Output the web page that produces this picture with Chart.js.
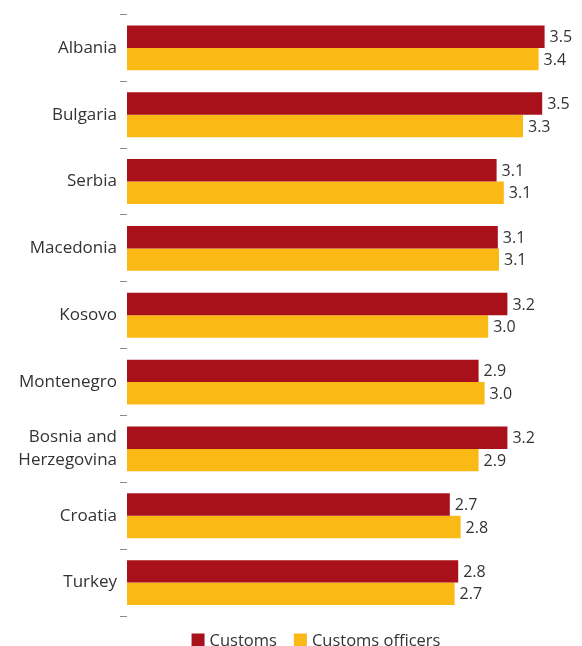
<!DOCTYPE html>
<html>
<head>
<meta charset="utf-8">
<script src="https://cdn.jsdelivr.net/npm/chart.js@4"></script>
<style>
  html, body { margin: 0; padding: 0; background: #fff; }
  #wrap { width: 582px; height: 646px; position: relative; }
</style>
</head>
<body>
<div id="wrap"><canvas id="chart"></canvas></div>
<script>
const countries = ['Albania', 'Bulgaria', 'Serbia', 'Macedonia', 'Kosovo', 'Montenegro',
    ['Bosnia and', 'Herzegovina'], 'Croatia', 'Turkey'];
const customs = [3.48, 3.46, 3.08, 3.09, 3.17, 2.93, 3.17, 2.69, 2.76];
const customsOfficers = [3.43, 3.30, 3.14, 3.10, 3.01, 2.98, 2.93, 2.78, 2.73];
const seriesNames = ['Customs', 'Customs officers'];
const seriesColors = ['#a8101a', '#fbb916'];

const FONT = '"Open Sans", sans-serif';
const TEXT = '#333333';

// value labels at the end of each bar
const barLabels = {
    id: 'barLabels',
    afterDatasetsDraw(chart) {
        const ctx = chart.ctx;
        ctx.save();
        ctx.font = '16px ' + FONT;
        ctx.fillStyle = TEXT;
        ctx.textAlign = 'left';
        ctx.textBaseline = 'middle';
        chart.data.datasets.forEach((ds, i) => {
            chart.getDatasetMeta(i).data.forEach((bar, j) => {
                ctx.fillText(ds.data[j].toFixed(1), bar.x + 5, bar.y + 1);
            });
        });
        ctx.restore();
    }
};

// legend under the plot
const bottomLegend = {
    id: 'bottomLegend',
    afterDraw(chart) {
        const ctx = chart.ctx;
        ctx.save();
        ctx.font = '16.5px ' + FONT;
        ctx.textBaseline = 'middle';
        const box = 13, gap = 5, spacing = 17;
        const items = chart.data.datasets.map(ds => ({ text: ds.label, color: ds.backgroundColor }));
        let total = 0;
        items.forEach((it, i) => {
            it.w = box + gap + ctx.measureText(it.text).width;
            total += it.w + (i ? spacing : 0);
        });
        let x = 316 - total / 2;
        const y = 640;
        items.forEach(it => {
            ctx.fillStyle = it.color;
            ctx.fillRect(x, y - box / 2, box, box);
            ctx.fillStyle = TEXT;
            ctx.fillText(it.text, x + box + gap, y + 1);
            x += it.w + spacing;
        });
        ctx.restore();
    }
};

new Chart(document.getElementById('chart'), {
    type: 'bar',
    data: {
        labels: countries,
        datasets: [
            { label: seriesNames[0], data: customs, backgroundColor: seriesColors[0] },
            { label: seriesNames[1], data: customsOfficers, backgroundColor: seriesColors[1] }
        ]
    },
    options: {
        indexAxis: 'y',
        responsive: true,
        maintainAspectRatio: false,
        animation: false,
        borderWidth: 0,
        barPercentage: 1,
        categoryPercentage: 45 / 67,
        layout: { padding: { top: 13, bottom: 30, left: 0, right: 5 } },
        plugins: {
            legend: { display: false },
            tooltip: { enabled: false }
        },
        scales: {
            x: { display: false, min: 0, max: 3.75 },
            y: {
                afterFit(scale) { scale.width = 127; },
                border: { display: false },
                grid: {
                    offset: true,
                    drawOnChartArea: false,
                    drawTicks: true,
                    tickLength: 7,
                    color: '#8a8a8a',
                    lineWidth: 1
                },
                ticks: {
                    padding: 3,
                    color: TEXT,
                    font: { family: FONT, size: 17, lineHeight: 1.35 }
                }
            }
        }
    },
    plugins: [barLabels, bottomLegend]
});
</script>
</body>
</html>
